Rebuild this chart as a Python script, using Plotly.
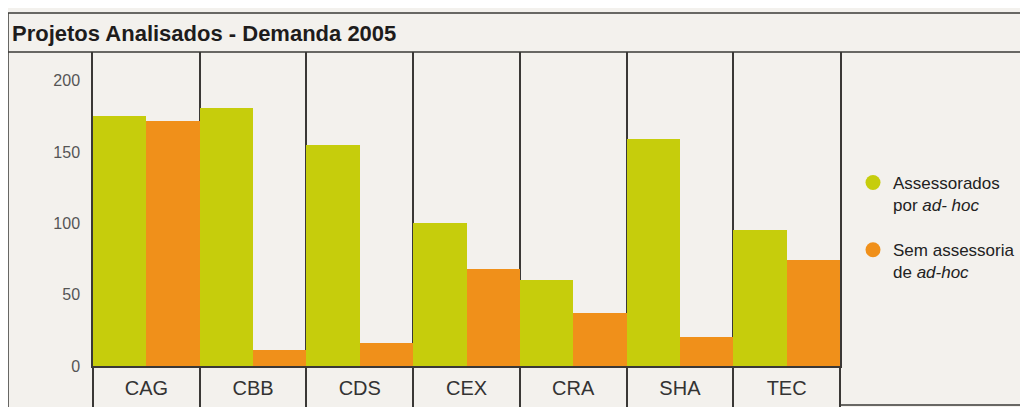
import plotly.graph_objects as go

# ---- data ----
categories = ["CAG", "CBB", "CDS", "CEX", "CRA", "SHA", "TEC"]
assessorados = [175, 181, 155, 100, 60, 159, 95]
sem_assessoria = [172, 11, 16, 68, 37, 20, 74]
series_names = ["Assessorados<br>por <i>ad- hoc</i>", "Sem assessoria<br>de <i>ad-hoc</i>"]
y_ticks = [0, 50, 100, 150, 200]
title_text = "Projetos Analisados - Demanda 2005"

GREEN = "#c6cd0c"
ORANGE = "#f0901a"
LINE = "#3a3836"
BG = "#f3f1ed"
FONT = "Liberation Sans, Arial, sans-serif"

fig = go.Figure()
fig.add_bar(x=categories, y=assessorados, marker=dict(color=GREEN, line=dict(width=0)),
            showlegend=False, name="Assessorados")
fig.add_bar(x=categories, y=sem_assessoria, marker=dict(color=ORANGE, line=dict(width=0)),
            showlegend=False, name="Sem assessoria")

# legend entries with round markers
for nm, col, grp in zip(series_names, [GREEN, ORANGE], ["a", "b"]):
    fig.add_scatter(x=[None], y=[None], mode="markers", name=nm, legendgroup=grp,
                    marker=dict(color=col, size=15, symbol="circle"))

# page body has an 8px default margin -> work in screen coords and subtract it
OFF = 8
W, H = 1028, 407
SL, ST, SR, SB = 93, 52, 840, 366          # plot area in screen pixels
L, T = SL - OFF, ST - OFF
R, B = W - (SR - OFF), H - (SB - OFF)
pw, ph = W - L - R, H - T - B

def px(x):
    return (x - SL) / pw

def py(y):
    return (SB - y) / ph

shapes = [
    dict(type="line", xref="paper", yref="paper", x0=px(8), x1=px(8), y0=py(430), y1=py(13),
         line=dict(color=LINE, width=1.5)),
    dict(type="line", xref="paper", yref="paper", x0=px(8), x1=px(1040), y0=py(13), y1=py(13),
         line=dict(color=LINE, width=1.5)),
    dict(type="line", xref="paper", yref="paper", x0=px(8), x1=px(1040), y0=1, y1=1,
         line=dict(color=LINE, width=1.5)),
    dict(type="line", xref="paper", yref="paper", x0=1, x1=px(1040), y0=py(405), y1=py(405),
         line=dict(color=LINE, width=1.5)),
]

fig.update_layout(
    width=W, height=H,
    margin=dict(l=L, r=R, t=T, b=B, pad=0, autoexpand=False),
    paper_bgcolor=BG, plot_bgcolor=BG,
    barmode="group", bargap=0, bargroupgap=0,
    font=dict(family=FONT, color="#2a2a2a"),
    title=dict(text="<b>" + title_text + "</b>", x=(12 - OFF) / W, xanchor="left", xref="container",
               y=1 - (33 - OFF) / H, yanchor="middle", yref="container",
               font=dict(size=22, family=FONT, color="#1e1c1c")),
    xaxis=dict(type="category", tickson="boundaries", showgrid=True, gridcolor=LINE, gridwidth=1.5,
               ticks="outside", ticklen=60, tickcolor=LINE, tickwidth=1.5,
               showline=True, linecolor=LINE, linewidth=2, zeroline=False,
               ticklabelstandoff=3, range=[-0.5, 6.5], automargin=False,
               tickfont=dict(size=20, family=FONT, color="#333333")),
    yaxis=dict(range=[0, 220], tickvals=y_ticks, showgrid=False, zeroline=False,
               showline=True, mirror=True, linecolor=LINE, linewidth=1.5,
               ticks="", ticklabelstandoff=8, automargin=False,
               tickfont=dict(size=16, family=FONT, color="#555555")),
    legend=dict(x=px(853), xanchor="left", y=py(165), yanchor="top", valign="top",
                tracegroupgap=20, bgcolor="rgba(0,0,0,0)",
                font=dict(size=17, family=FONT, color="#222222")),
    shapes=shapes,
)

fig.write_html("out.html")
